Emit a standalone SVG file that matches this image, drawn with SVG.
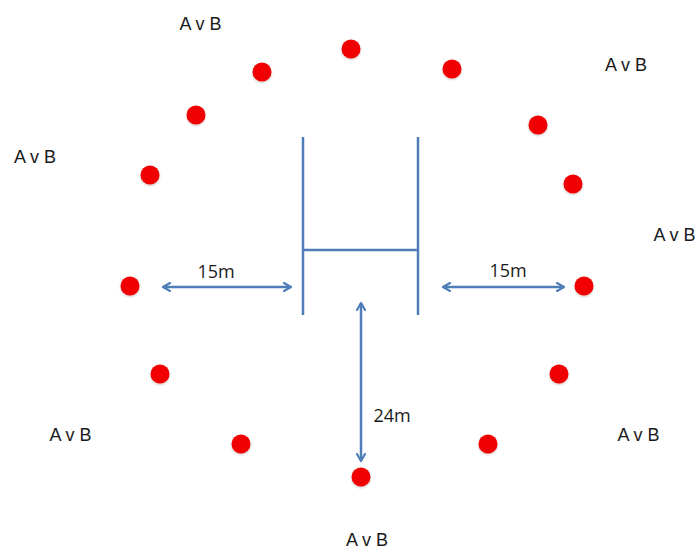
<svg xmlns="http://www.w3.org/2000/svg" width="700" height="549" viewBox="0 0 700 549">
<defs>
<marker id="ah" viewBox="0 0 10 10" refX="8" refY="5" markerWidth="4" markerHeight="4" orient="auto-start-reverse" markerUnits="strokeWidth">
<path d="M1,1 L8,5 L1,9" fill="none" stroke="#4f7db8" stroke-width="2.2" stroke-linecap="round" stroke-linejoin="round"/>
</marker>
<filter id="sh" x="-50%" y="-50%" width="200%" height="200%"><feGaussianBlur in="SourceAlpha" stdDeviation="1.2"/><feOffset dx="0" dy="1" result="b"/><feFlood flood-color="#000" flood-opacity="0.25"/><feComposite in2="b" operator="in"/><feMerge><feMergeNode/><feMergeNode in="SourceGraphic"/></feMerge></filter>
</defs>
<style>
.dot{fill:#f00000;filter:url(#sh)}
.post{stroke:#4f7db8;stroke-width:2.5;fill:none}
.arr{stroke:#4f7db8;stroke-width:2.5;fill:none;marker-start:url(#ah);marker-end:url(#ah)}
.lbl{font-family:"Liberation Sans",Arial,sans-serif;font-size:18px;fill:#1a1a1a;text-anchor:middle}
.num{font-family:"Open Sans","Liberation Sans",sans-serif;font-size:18px;fill:#1a1a1a;text-anchor:middle}
</style>
<rect width="700" height="549" fill="#fff"/>
<g id="goal">
<line class="post" x1="303" y1="137" x2="303" y2="315"/>
<line class="post" x1="418" y1="137" x2="418" y2="315"/>
<line class="post" x1="303" y1="250" x2="418" y2="250"/>
</g>
<g id="connectors">
<line class="arr" x1="163" y1="287" x2="291" y2="287"/>
<line class="arr" x1="443" y1="287" x2="564" y2="287"/>
<line class="arr" x1="361" y1="303" x2="361" y2="461"/>
</g>
<g id="dots">
<circle class="dot" cx="351" cy="49" r="9.5"/>
<circle class="dot" cx="262" cy="72" r="9.5"/>
<circle class="dot" cx="452" cy="69" r="9.5"/>
<circle class="dot" cx="196" cy="115" r="9.5"/>
<circle class="dot" cx="538" cy="125" r="9.5"/>
<circle class="dot" cx="150" cy="175" r="9.5"/>
<circle class="dot" cx="573" cy="184" r="9.5"/>
<circle class="dot" cx="130" cy="286" r="9.5"/>
<circle class="dot" cx="584" cy="286" r="9.5"/>
<circle class="dot" cx="160" cy="374" r="9.5"/>
<circle class="dot" cx="559" cy="374" r="9.5"/>
<circle class="dot" cx="241" cy="444" r="9.5"/>
<circle class="dot" cx="488" cy="444" r="9.5"/>
<circle class="dot" cx="361" cy="477" r="9.5"/>
</g>
<g id="labels">
<text class="num" x="216" y="278">15m</text>
<text class="num" x="508" y="277">15m</text>
<text class="num" x="392" y="422">24m</text>
<text class="lbl" x="200.5" y="30">A v B</text>
<text class="lbl" x="626" y="71">A v B</text>
<text class="lbl" x="35" y="163">A v B</text>
<text class="lbl" x="674.5" y="241">A v B</text>
<text class="lbl" x="70.5" y="441">A v B</text>
<text class="lbl" x="638.5" y="441">A v B</text>
<text class="lbl" x="367" y="546">A v B</text>
</g>
</svg>
